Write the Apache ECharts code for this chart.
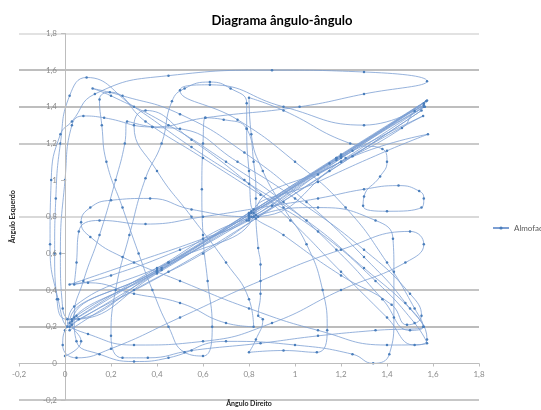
<!DOCTYPE html>
<html>
<head>
<meta charset="utf-8">
<script src="https://cdn.jsdelivr.net/npm/echarts@6/dist/echarts.min.js"></script>
<style>
html,body{margin:0;padding:0;background:#fff;}
#chart{width:541px;height:410px;}
</style>
</head>
<body>
<div id="chart"></div>
<script>
var titulo = 'Diagrama ângulo-ângulo';
var nomeSerie = 'Almofada';
var nomeEixoX = 'Ângulo Direito';
var nomeEixoY = 'Ângulo Esquerdo';
var ticksEixo = [-0.2, 0, 0.2, 0.4, 0.6, 0.8, 1, 1.2, 1.4, 1.6, 1.8];

// [Ângulo Direito, Ângulo Esquerdo]
var pontos = [
[0.00,0.04],[0.07,0.12],[0.03,0.21],
[0.42,0.52],[0.80,0.81],[1.18,1.11],[1.57,1.43],
[1.18,1.12],[0.82,0.84],
[0.80,1.05],[0.79,1.28],[0.79,1.42],
[0.72,1.50],[0.63,1.535],[0.52,1.50],[0.465,1.43],
[0.42,1.20],[0.35,1.01],[0.28,0.70],[0.22,0.40],[0.20,0.15],[0.25,0.03],
[0.36,0.03],[0.55,0.07],[0.85,0.11],[1.10,0.15],[1.35,0.18],[1.56,0.20],
[1.50,0.30],[1.30,0.52],[1.05,0.78],[0.80,0.98],[0.55,1.18],[0.30,1.40],[0.094,1.56],
[0.02,1.46],[-0.02,1.20],[-0.04,0.90],[-0.045,0.60],[-0.035,0.35],[0.01,0.24],
[0.40,0.50],[0.80,0.80],[1.20,1.13],[1.56,1.40],
[1.22,1.12],[0.81,0.80],
[0.55,0.84],[0.37,0.90],[0.20,0.89],[0.11,0.85],[0.07,0.77],[0.11,0.69],[0.25,0.58],[0.50,0.45],[0.80,0.30],[1.10,0.18],[1.40,0.10],[1.574,0.11],
[1.52,0.22],[1.35,0.45],[1.10,0.72],[0.85,0.92],[0.60,1.12],[0.35,1.32],[0.195,1.48],
[0.15,1.44],[0.16,1.30],[0.18,1.10],[0.25,0.85],[0.32,0.60],[0.38,0.40],[0.45,0.20],[0.52,0.06],[0.60,0.04],
[0.64,0.20],[0.62,0.45],[0.60,0.70],[0.595,0.95],[0.60,1.20],[0.61,1.34],[0.69,1.33],[0.79,1.28],
[0.82,1.10],[0.83,0.90],[0.82,0.80],
[0.45,0.55],[0.04,0.31],[0.01,0.20],
[0.42,0.51],[0.80,0.82],[1.15,1.09],[1.557,1.35],
[1.20,1.10],[0.83,0.81],
[0.84,0.63],[0.85,0.54],[0.85,0.38],[0.84,0.26],[0.86,0.24],[0.83,0.13],[0.80,0.06],
[0.95,0.07],[1.095,0.06],[1.14,0.18],[1.12,0.40],[1.05,0.65],[0.95,0.85],[0.86,1.05],[0.81,1.25],[0.80,1.45],
[0.95,1.38],[1.24,1.20],[1.38,1.17],[1.40,1.10],[1.37,1.02],[1.30,0.91],[1.296,0.86],[1.40,0.83],[1.55,0.85],[1.56,0.90],[1.54,0.94],[1.45,0.97],[1.30,0.95],[1.10,0.90],[0.90,0.86],[0.60,0.80],[0.35,0.76],[0.15,0.78],[0.06,0.72],
[0.05,0.55],[0.04,0.43],
[0.20,0.48],[0.50,0.62],[0.80,0.79],[1.10,1.03],[1.465,1.284],[1.52,1.377],[1.565,1.40],
[1.25,1.16],[0.84,0.80],
[0.60,0.60],[0.30,0.40],[0.02,0.18],
[0.05,0.26],[0.40,0.50],[0.79,0.78],[1.20,1.10],[1.578,1.25],
[1.40,1.16],[1.10,0.99],[0.82,0.82],
[0.95,0.70],[1.20,0.48],[1.42,0.32],[1.487,0.21],[1.55,0.26],[1.50,0.38],
[1.30,0.62],[1.00,0.90],[0.75,1.10],[0.50,1.28],[0.38,1.29],[0.27,1.32],
[0.26,1.20],[0.22,1.00],[0.15,0.70],[0.08,0.45],[0.04,0.25],[0.05,0.12],[0.15,0.05],[0.30,0.01],[0.45,0.03],[0.70,0.12],[1.00,0.10],[1.25,0.05],[1.34,0.00],[1.41,0.05],[1.43,0.25],[1.43,0.50],[1.426,0.68],[1.35,0.78],[1.10,0.85],[0.82,0.80],
[0.40,0.52],[0.03,0.23],
[0.45,0.55],[0.81,0.83],[1.20,1.14],[1.574,1.435],
[1.20,1.13],[0.80,0.82],[0.40,0.50],[0.00,0.18],
[-0.01,0.10],[0.05,0.03],[0.20,0.08],
[0.50,0.25],[0.85,0.45],[1.20,0.62],[1.50,0.72],[1.56,0.65],[1.48,0.55],[1.20,0.40],[0.90,0.22],[0.60,0.12],[0.30,0.10],[0.10,0.16],[0.02,0.22],
[0.40,0.51],[0.80,0.81],[1.18,1.12],[1.56,1.41],
[1.30,1.30],[0.95,1.40],[0.63,1.52],[0.50,1.49],
[0.75,1.33],[1.00,1.10],[1.22,0.85],[1.40,0.55],[1.52,0.30],[1.557,0.20],
[1.50,0.18],[1.38,0.35],[1.18,0.62],[0.95,0.88],[0.70,1.10],[0.45,1.30],[0.20,1.46],[0.12,1.50],
[0.25,1.46],[0.50,1.36],[0.78,1.15],[1.05,0.88],[1.30,0.58],[1.48,0.33],[1.574,0.13],
[1.52,0.10],[1.40,0.25],[1.20,0.50],[0.98,0.78],[0.78,1.00],[0.55,1.22],[0.35,1.38],
[0.30,1.30],[0.40,1.05],[0.55,0.80],[0.70,0.55],[0.80,0.35],[0.82,0.20],
[0.70,0.22],[0.50,0.33],[0.30,0.38],[0.10,0.44],[0.02,0.43],
[0.30,0.55],[0.60,0.68],[0.80,0.78],[1.15,1.05],[1.55,1.38],
[1.25,1.13],[0.83,0.79],[0.45,0.50],[0.06,0.24],[0.02,0.20],
[-0.03,0.35],[-0.065,0.65],[-0.06,1.00],[-0.02,1.25],[0.03,1.32],
[0.13,1.47],[0.45,1.57],[0.90,1.60],[1.30,1.59],[1.574,1.54],
[1.30,1.47],[1.02,1.40],[0.61,1.34],[0.38,1.29],[0.17,1.34],[0.08,1.35],[0.03,1.30],
[0.00,1.00],[-0.02,0.60],[-0.01,0.30],[0.03,0.24],
[0.40,0.49],[0.81,0.82],[1.20,1.12],[1.56,1.42]
];

function fmt(v) {
  var r = Math.round(v * 10) / 10;
  return String(r).replace('.', ',');
}

var fonte = 'Lato, "Open Sans", sans-serif';
var corEixo = '#bdbdbd';
var corRotulo = '#8a8a8a';
var xMin = ticksEixo[0], xMax = ticksEixo[ticksEixo.length - 1];

var chart = echarts.init(document.getElementById('chart'), null, {renderer: 'canvas'});
chart.setOption({
  animation: false,
  backgroundColor: '#ffffff',
  textStyle: {fontFamily: fonte},
  title: {
    text: titulo,
    left: 277,
    textAlign: 'center',
    top: 9,
    textStyle: {fontFamily: fonte, fontSize: 13, fontWeight: 'bold', color: '#000'}
  },
  legend: {
    data: [nomeSerie],
    left: 487,
    top: 219,
    itemWidth: 16,
    itemHeight: 4,
    itemGap: 3,
    textStyle: {fontFamily: fonte, fontSize: 8, color: '#595959'}
  },
  grid: [
    {left: 19, right: 62, top: 33.5, bottom: 10, containLabel: false, outerBoundsMode: 'none'},
    {left: 19, right: 62, top: 33.5, bottom: 46.5, containLabel: false, outerBoundsMode: 'none'},
    {left: 65, right: 62, top: 33.5, bottom: 10, containLabel: false, outerBoundsMode: 'none'}
  ],
  xAxis: [
    {gridIndex: 0, type: 'value', min: xMin, max: xMax, interval: 0.2,
     axisLine: {show: false}, axisTick: {show: false}, axisLabel: {show: false}, splitLine: {show: false}},
    {gridIndex: 1, type: 'value', min: xMin, max: xMax, interval: 0.2, position: 'bottom', z: 5,
     name: nomeEixoX, nameLocation: 'middle', nameGap: 37,
     nameTextStyle: {fontFamily: fonte, fontSize: 7, fontWeight: 'bold', color: '#222'},
     axisLine: {onZero: false, lineStyle: {color: corEixo, width: 1}},
     axisTick: {show: true, length: 3, lineStyle: {color: corEixo}},
     axisLabel: {formatter: fmt, fontSize: 8, color: corRotulo, margin: 7},
     splitLine: {show: false}},
    {gridIndex: 2, type: 'value', min: 0, max: xMax, show: false}
  ],
  yAxis: [
    {gridIndex: 0, type: 'value', min: xMin, max: xMax, interval: 0.2,
     axisLine: {show: false}, axisTick: {show: false}, axisLabel: {show: false},
     splitLine: {show: true, lineStyle: {width: 1.5, color: [
       '#b5b5b5', 'rgba(255,255,255,0)', '#a6a6a6', '#b0b0b0', 'rgba(255,255,255,0)', '#cdcdcd',
       'rgba(255,255,255,0)', '#b8b8b8', '#a8a8a8', '#a8a8a8', '#d8d8d8'
     ]}}},
    {gridIndex: 1, type: 'value', min: 0, max: xMax, show: false},
    {gridIndex: 2, type: 'value', min: xMin, max: xMax, interval: 0.2, position: 'left', z: 5,
     name: nomeEixoY, nameLocation: 'middle', nameGap: 49,
     nameTextStyle: {fontFamily: fonte, fontSize: 7, fontWeight: 'bold', color: '#222'},
     axisLine: {onZero: false, lineStyle: {color: corEixo, width: 1}},
     axisTick: {show: true, length: 4, lineStyle: {color: corEixo}},
     axisLabel: {formatter: fmt, fontSize: 8, color: corRotulo, margin: 8},
     splitLine: {show: false}}
  ],
  series: [{
    name: nomeSerie,
    type: 'line',
    xAxisIndex: 0,
    yAxisIndex: 0,
    data: pontos,
    smooth: 0.5,
    symbol: 'circle',
    symbolSize: 2.5,
    showSymbol: true,
    itemStyle: {color: '#4a7ebb'},
    lineStyle: {color: '#7c9fd3', width: 0.8},
    z: 2
  }]
});
</script>
</body>
</html>
